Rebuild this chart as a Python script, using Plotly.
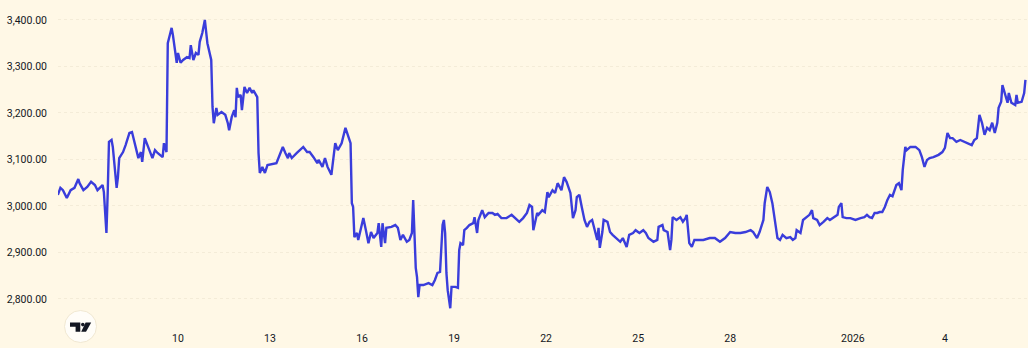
import plotly.graph_objects as go

# ---- data ----
times = [
    "2025-12-06 02:00", "2025-12-06 04:00", "2025-12-06 06:00", "2025-12-06 09:00", "2025-12-06 12:00",
    "2025-12-06 15:00", "2025-12-06 18:00", "2025-12-06 19:00", "2025-12-06 22:00",
    "2025-12-07 01:00", "2025-12-07 04:00", "2025-12-07 07:00", "2025-12-07 09:00", "2025-12-07 13:00",
    "2025-12-07 14:00", "2025-12-07 16:00", "2025-12-07 17:00", "2025-12-07 18:00", "2025-12-07 20:00",
    "2025-12-07 21:00",
    "2025-12-08 00:00", "2025-12-08 01:00", "2025-12-08 02:00", "2025-12-08 05:00", "2025-12-08 07:00",
    "2025-12-08 10:00", "2025-12-08 12:00", "2025-12-08 14:00", "2025-12-08 17:00", "2025-12-08 19:00",
    "2025-12-08 20:00", "2025-12-08 22:00",
    "2025-12-09 01:00", "2025-12-09 04:00", "2025-12-09 06:00", "2025-12-09 08:00", "2025-12-09 12:00",
    "2025-12-09 13:00", "2025-12-09 15:00", "2025-12-09 16:00", "2025-12-09 18:00", "2025-12-09 19:00",
    "2025-12-09 20:00", "2025-12-09 22:00", "2025-12-09 23:00",
    "2025-12-10 00:00", "2025-12-10 02:00", "2025-12-10 04:00", "2025-12-10 07:00", "2025-12-10 09:00",
    "2025-12-10 10:00", "2025-12-10 12:00", "2025-12-10 14:00", "2025-12-10 16:00", "2025-12-10 17:00",
    "2025-12-10 19:00", "2025-12-10 21:00", "2025-12-10 23:00",
    "2025-12-11 00:00", "2025-12-11 02:00", "2025-12-11 03:00", "2025-12-11 04:00", "2025-12-11 06:00",
    "2025-12-11 07:00", "2025-12-11 10:00", "2025-12-11 13:00", "2025-12-11 15:00", "2025-12-11 16:00",
    "2025-12-11 18:00", "2025-12-11 20:00", "2025-12-11 21:00", "2025-12-11 22:00", "2025-12-11 23:00",
    "2025-12-12 01:00", "2025-12-12 02:00", "2025-12-12 04:00", "2025-12-12 06:00", "2025-12-12 08:00",
    "2025-12-12 10:00", "2025-12-12 11:00", "2025-12-12 13:00", "2025-12-12 14:00", "2025-12-12 15:00",
    "2025-12-12 16:00", "2025-12-12 18:00", "2025-12-12 20:00", "2025-12-12 22:00",
    "2025-12-13 01:00", "2025-12-13 05:00", "2025-12-13 09:00", "2025-12-13 10:00", "2025-12-13 12:00",
    "2025-12-13 14:00", "2025-12-13 15:00", "2025-12-13 17:00", "2025-12-13 21:00",
    "2025-12-14 02:00", "2025-12-14 05:00", "2025-12-14 07:00", "2025-12-14 10:00", "2025-12-14 13:00",
    "2025-12-14 14:00", "2025-12-14 17:00", "2025-12-14 19:00", "2025-12-14 21:00",
    "2025-12-15 00:00", "2025-12-15 03:00", "2025-12-15 05:00", "2025-12-15 08:00", "2025-12-15 11:00",
    "2025-12-15 13:00", "2025-12-15 15:00", "2025-12-15 16:00", "2025-12-15 17:00", "2025-12-15 18:00",
    "2025-12-15 20:00", "2025-12-15 21:00", "2025-12-15 23:00",
    "2025-12-16 01:00", "2025-12-16 03:00", "2025-12-16 05:00", "2025-12-16 07:00", "2025-12-16 09:00",
    "2025-12-16 12:00", "2025-12-16 13:00", "2025-12-16 15:00", "2025-12-16 16:00", "2025-12-16 18:00",
    "2025-12-16 19:00", "2025-12-16 23:00",
    "2025-12-17 02:00", "2025-12-17 04:00", "2025-12-17 06:00", "2025-12-17 08:00", "2025-12-17 11:00",
    "2025-12-17 13:00", "2025-12-17 15:00", "2025-12-17 16:00", "2025-12-17 17:00", "2025-12-17 18:00",
    "2025-12-17 19:00", "2025-12-17 20:00", "2025-12-17 21:00",
    "2025-12-18 00:00", "2025-12-18 04:00", "2025-12-18 07:00", "2025-12-18 09:00", "2025-12-18 11:00",
    "2025-12-18 13:00", "2025-12-18 15:00", "2025-12-18 16:00", "2025-12-18 17:00", "2025-12-18 18:00",
    "2025-12-18 19:00", "2025-12-18 21:00", "2025-12-18 22:00",
    "2025-12-19 01:00", "2025-12-19 03:00", "2025-12-19 04:00", "2025-12-19 05:00", "2025-12-19 07:00",
    "2025-12-19 08:00", "2025-12-19 10:00", "2025-12-19 12:00", "2025-12-19 15:00", "2025-12-19 16:00",
    "2025-12-19 18:00", "2025-12-19 19:00", "2025-12-19 22:00",
    "2025-12-20 00:00", "2025-12-20 03:00", "2025-12-20 06:00", "2025-12-20 08:00", "2025-12-20 10:00",
    "2025-12-20 13:00", "2025-12-20 17:00", "2025-12-20 21:00",
    "2025-12-21 00:00", "2025-12-21 03:00", "2025-12-21 06:00", "2025-12-21 09:00", "2025-12-21 11:00",
    "2025-12-21 13:00", "2025-12-21 14:00", "2025-12-21 17:00", "2025-12-21 18:00", "2025-12-21 21:00",
    "2025-12-21 23:00",
    "2025-12-22 01:00", "2025-12-22 02:00", "2025-12-22 05:00", "2025-12-22 07:00", "2025-12-22 09:00",
    "2025-12-22 12:00", "2025-12-22 14:00", "2025-12-22 16:00", "2025-12-22 19:00", "2025-12-22 21:00",
    "2025-12-22 23:00",
    "2025-12-23 00:00", "2025-12-23 02:00", "2025-12-23 04:00", "2025-12-23 06:00", "2025-12-23 08:00",
    "2025-12-23 10:00", "2025-12-23 12:00", "2025-12-23 13:00", "2025-12-23 16:00", "2025-12-23 17:00",
    "2025-12-23 18:00", "2025-12-23 20:00", "2025-12-23 21:00",
    "2025-12-24 00:00", "2025-12-24 02:00", "2025-12-24 04:00", "2025-12-24 07:00", "2025-12-24 10:00",
    "2025-12-24 12:00", "2025-12-24 15:00", "2025-12-24 17:00", "2025-12-24 20:00", "2025-12-24 22:00",
    "2025-12-25 01:00", "2025-12-25 04:00", "2025-12-25 06:00", "2025-12-25 08:00", "2025-12-25 12:00",
    "2025-12-25 15:00", "2025-12-25 16:00", "2025-12-25 19:00", "2025-12-25 20:00", "2025-12-25 23:00",
    "2025-12-26 01:00", "2025-12-26 02:00", "2025-12-26 03:00", "2025-12-26 06:00", "2025-12-26 09:00",
    "2025-12-26 11:00", "2025-12-26 13:00", "2025-12-26 14:00", "2025-12-26 16:00", "2025-12-26 18:00",
    "2025-12-26 20:00", "2025-12-26 23:00",
    "2025-12-27 03:00", "2025-12-27 08:00", "2025-12-27 12:00", "2025-12-27 16:00", "2025-12-27 20:00",
    "2025-12-28 00:00", "2025-12-28 04:00", "2025-12-28 08:00", "2025-12-28 12:00", "2025-12-28 16:00",
    "2025-12-28 18:00", "2025-12-28 21:00", "2025-12-28 23:00",
    "2025-12-29 02:00", "2025-12-29 03:00", "2025-12-29 05:00", "2025-12-29 07:00", "2025-12-29 09:00",
    "2025-12-29 11:00", "2025-12-29 13:00", "2025-12-29 15:00", "2025-12-29 17:00", "2025-12-29 20:00",
    "2025-12-29 23:00",
    "2025-12-30 01:00", "2025-12-30 03:00", "2025-12-30 04:00", "2025-12-30 07:00", "2025-12-30 09:00",
    "2025-12-30 12:00", "2025-12-30 14:00", "2025-12-30 16:00", "2025-12-30 17:00", "2025-12-30 20:00",
    "2025-12-30 22:00",
    "2025-12-31 01:00", "2025-12-31 04:00", "2025-12-31 06:00", "2025-12-31 08:00", "2025-12-31 12:00",
    "2025-12-31 13:00", "2025-12-31 15:00", "2025-12-31 16:00", "2025-12-31 19:00", "2025-12-31 22:00",
    "2026-01-01 02:00", "2026-01-01 06:00", "2026-01-01 09:00", "2026-01-01 11:00", "2026-01-01 13:00",
    "2026-01-01 15:00", "2026-01-01 17:00", "2026-01-01 19:00", "2026-01-01 21:00", "2026-01-01 23:00",
    "2026-01-02 01:00", "2026-01-02 03:00", "2026-01-02 05:00", "2026-01-02 07:00", "2026-01-02 10:00",
    "2026-01-02 12:00", "2026-01-02 14:00", "2026-01-02 15:00", "2026-01-02 17:00", "2026-01-02 18:00",
    "2026-01-02 21:00",
    "2026-01-03 01:00", "2026-01-03 04:00", "2026-01-03 06:00", "2026-01-03 08:00", "2026-01-03 10:00",
    "2026-01-03 12:00", "2026-01-03 15:00", "2026-01-03 19:00", "2026-01-03 22:00",
    "2026-01-04 00:00", "2026-01-04 02:00", "2026-01-04 04:00", "2026-01-04 06:00", "2026-01-04 09:00",
    "2026-01-04 12:00", "2026-01-04 15:00", "2026-01-04 18:00", "2026-01-04 21:00", "2026-01-04 23:00",
    "2026-01-05 01:00", "2026-01-05 03:00", "2026-01-05 05:00", "2026-01-05 07:00", "2026-01-05 09:00",
    "2026-01-05 11:00", "2026-01-05 13:00", "2026-01-05 15:00", "2026-01-05 17:00", "2026-01-05 18:00",
    "2026-01-05 20:00", "2026-01-05 21:00", "2026-01-05 23:00",
    "2026-01-06 01:00", "2026-01-06 02:00", "2026-01-06 04:00", "2026-01-06 07:00", "2026-01-06 08:00",
    "2026-01-06 09:00", "2026-01-06 12:00", "2026-01-06 14:00", "2026-01-06 15:00",
]

prices = [
    3024, 3039, 3034, 3017, 3034, 3039, 3058, 3049, 3034,
    3041, 3052, 3045, 3034, 3045, 3030, 2942, 3028, 3138, 3142, 3127,
    3039, 3062, 3103, 3116, 3131, 3157, 3159, 3135, 3103, 3116, 3095, 3146,
    3125, 3103, 3120, 3114, 3105, 3135, 3116, 3350, 3372, 3383, 3368, 3329, 3308,
    3329, 3308, 3314, 3320, 3318, 3346, 3314, 3329, 3325, 3353, 3372, 3400, 3350,
    3335, 3314, 3213, 3178, 3211, 3196, 3202, 3196, 3178, 3163, 3191, 3206, 3191, 3254, 3234,
    3239, 3206, 3256, 3243, 3254, 3243, 3249, 3239, 3234, 3114, 3071, 3084, 3071, 3088,
    3090, 3092, 3120, 3127, 3114, 3103, 3114, 3103, 3114,
    3127, 3116, 3116, 3105, 3092, 3099, 3084, 3103, 3084,
    3067, 3135, 3120, 3135, 3168, 3153, 3135, 3006, 2998, 2933, 2942, 2927, 2948,
    2974, 2948, 2920, 2944, 2931, 2942, 2963, 2912, 2963, 2920, 2953, 2955,
    2959, 2953, 2927, 2938, 2923, 2927, 2942, 3013, 2920, 2867, 2847, 2804, 2830,
    2830, 2834, 2830, 2841, 2856, 2858, 2959, 2970, 2942, 2856, 2819, 2780, 2826,
    2826, 2824, 2905, 2920, 2916, 2948, 2953, 2959, 2963, 2976, 2942, 2970, 2991,
    2976, 2985, 2985, 2981, 2983, 2974, 2974, 2981,
    2974, 2966, 2974, 2985, 3002, 2998, 2948, 2985, 2981, 2991, 2987,
    3030, 3019, 3034, 3028, 3049, 3034, 3062, 3052, 3028, 2974, 2991,
    3019, 3024, 2996, 2970, 2955, 2966, 2970, 2959, 2927, 2953, 2910, 2944, 2970,
    2966, 2944, 2938, 2931, 2923, 2931, 2912, 2938, 2942, 2948,
    2942, 2948, 2942, 2931, 2923, 2927, 2955, 2959, 2948, 2944,
    2905, 2927, 2976, 2970, 2976, 2966, 2974, 2981, 2920, 2912, 2927, 2927,
    2927, 2931, 2931, 2923, 2931,
    2944, 2942, 2942, 2944, 2948, 2944, 2931, 2944,
    2970, 3006, 3041, 3030, 3006, 2970, 2931, 2927, 2938, 2931, 2933,
    2927, 2931, 2948, 2942, 2970, 2976, 2981, 2991, 2974, 2970, 2959,
    2966, 2974, 2970, 2974, 2981, 2998, 3006, 2976, 2974, 2974,
    2970, 2974, 2976, 2981, 2976, 2974, 2985, 2985, 2987, 2987,
    2998, 3013, 3024, 3021, 3045, 3049, 3034, 3077, 3127, 3120, 3127,
    3127, 3120, 3105, 3084, 3099, 3103, 3105, 3110, 3116,
    3125, 3157, 3146, 3146, 3138, 3142, 3138, 3135, 3131, 3142,
    3146, 3196, 3179, 3153, 3168, 3163, 3179, 3157, 3179, 3211, 3224, 3260, 3239,
    3222, 3243, 3222, 3217, 3239, 3222, 3224, 3243, 3271,
]

y_tick_values = [2800, 2900, 3000, 3100, 3200, 3300, 3400]
y_tick_labels = ["2,800.00", "2,900.00", "3,000.00", "3,100.00", "3,200.00", "3,300.00", "3,400.00"]
x_tick_values = ["2025-12-10", "2025-12-13", "2025-12-16", "2025-12-19", "2025-12-22",
                 "2025-12-25", "2025-12-28", "2026-01-01", "2026-01-04"]
x_tick_labels = ["10", "13", "16", "19", "22", "25", "28", "2026", "4"]

# ---- layout constants ----
W, H = 1028, 348
ML, MR, MT, MB = 58, 0, 0, 26
PW, PH = W - ML - MR, H - MT - MB
BG = "#fff8e6"
LINE = "#3a3ddb"
TXT = "#131722"


def px(x, y):
    """pixel -> paper coordinates"""
    return (x - ML) / PW, (H - MB - y) / PH


fig = go.Figure()
fig.add_trace(go.Scatter(
    x=times, y=prices, mode="lines",
    line=dict(color=LINE, width=2.4),
    hoverinfo="skip", showlegend=False,
))

# TradingView-style logo badge
cx0, cy0 = px(64.5, 310.5)
cx1, cy1 = px(96.5, 342.5)
fig.add_shape(type="circle", xref="paper", yref="paper",
              x0=cx0, y0=cy1, x1=cx1, y1=cy0,
              fillcolor="#fffdf8", line=dict(color="#f1e8d2", width=1), layer="above")

def path(points):
    s = ""
    for i, (x, y) in enumerate(points):
        a, b = px(x, y)
        s += ("M" if i == 0 else "L") + f"{a:.5f},{b:.5f} "
    return s + "Z"

t_shape = [(70, 322.5), (80.3, 322.5), (80.3, 331.8), (75.6, 331.8), (75.6, 326.8), (70, 326.8)]
slash = [(85.6, 322.5), (91.2, 322.5), (86.0, 331.8), (81.2, 331.8)]
fig.add_shape(type="path", xref="paper", yref="paper", path=path(t_shape),
              fillcolor="#131722", line=dict(width=0), layer="above")
fig.add_shape(type="path", xref="paper", yref="paper", path=path(slash),
              fillcolor="#131722", line=dict(width=0), layer="above")
d0x, d0y = px(81.0, 322.8)
d1x, d1y = px(84.6, 326.4)
fig.add_shape(type="circle", xref="paper", yref="paper", x0=d0x, y0=d1y, x1=d1x, y1=d0y,
              fillcolor="#131722", line=dict(width=0), layer="above")

fig.update_layout(
    width=W, height=H,
    margin=dict(l=ML, r=MR, t=MT, b=MB, pad=0),
    paper_bgcolor=BG, plot_bgcolor=BG,
    font=dict(family="Roboto, 'Liberation Sans', sans-serif", size=10.5, color=TXT),
    xaxis=dict(
        type="date",
        range=["2025-12-06 02:07", "2026-01-06 17:00"],
        tickmode="array", tickvals=x_tick_values, ticktext=x_tick_labels,
        showgrid=False, zeroline=False, showline=False,
        ticks="", ticklabelstandoff=8,
        fixedrange=True,
    ),
    yaxis=dict(
        range=[2750.5, 3443],
        tickmode="array", tickvals=y_tick_values, ticktext=y_tick_labels,
        showgrid=True, gridcolor="#f4ecd8", griddash="dot", gridwidth=1,
        zeroline=False, showline=False,
        ticks="", ticklabelstandoff=10,
        fixedrange=True,
    ),
)

fig.write_html("out.html", config={"displayModeBar": False})
